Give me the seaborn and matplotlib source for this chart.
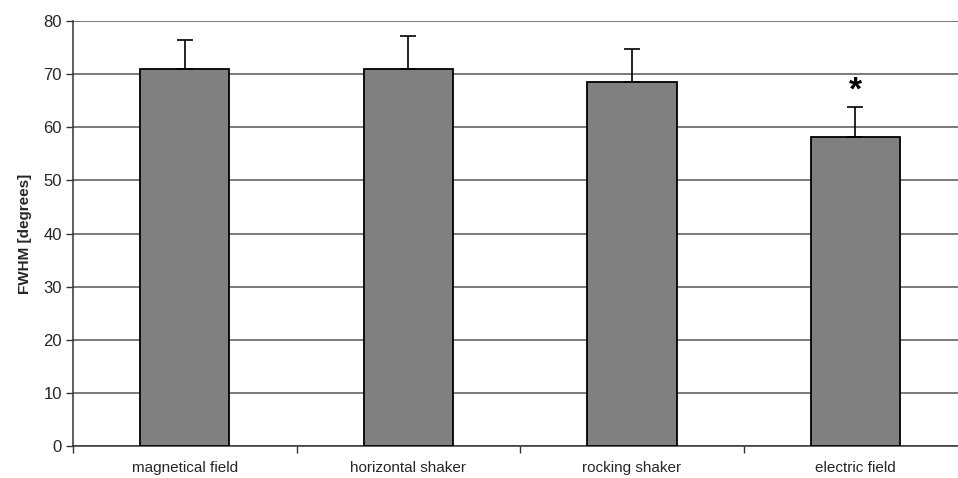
import numpy as np
import pandas as pd
import matplotlib
matplotlib.use("Agg")
import matplotlib.pyplot as plt
import seaborn as sns

# values
categories = ["magnetical field", "horizontal shaker", "rocking shaker", "electric field"]
fwhm_mean = [71.0, 71.0, 68.5, 58.2]
fwhm_err = [5.5, 6.2, 6.3, 5.7]
star_label = "*"
star_category = 3
star_y = 66.8

sns.set_style("white")
plt.rcParams['font.family'] = ['Liberation Sans', 'DejaVu Sans']

df = pd.DataFrame({"condition": categories, "fwhm": fwhm_mean})

fig = plt.figure(figsize=(9.58, 4.78), dpi=100)
ax = fig.add_axes([0.0762, 0.067, 0.924, 0.889])

sns.barplot(data=df, x="condition", y="fwhm", color="#808080", saturation=1,
            width=0.40, edgecolor="black", linewidth=1.3, ax=ax, zorder=3)

# only the upper half of the error bar
ax.errorbar(range(len(categories)), fwhm_mean, yerr=[[0] * len(categories), fwhm_err],
            fmt="none", ecolor="black", elinewidth=1.2, capsize=6, capthick=1.2, zorder=4)

ax.text(star_category, star_y, star_label, ha="center", va="center",
        fontsize=24, fontweight="bold", color="black", zorder=5)

ax.set_ylim(0, 80)
ax.set_yticks(np.arange(0, 81, 10))
ax.set_xlim(-0.5, 3.46)
ax.yaxis.grid(True, color="#555555", linewidth=1.1, zorder=0)
ax.set_axisbelow(True)

ax.set_xlabel("")
ax.set_ylabel("FWHM [degrees]", fontsize=11, fontweight="bold", labelpad=8)

for side in ["top", "right"]:
    ax.spines[side].set_visible(False)
ax.spines["left"].set_color("#333333")
ax.spines["bottom"].set_color("#333333")
ax.spines["left"].set_linewidth(1.1)
ax.spines["bottom"].set_linewidth(1.1)

ax.tick_params(axis="y", which="major", left=True, length=5, width=1, color="#333333",
               labelsize=12, pad=3)
ax.tick_params(axis="x", which="major", bottom=False, length=0, labelsize=11, pad=11)
ax.set_xticks([-0.5, 0.5, 1.5, 2.5], minor=True)
ax.tick_params(axis="x", which="minor", bottom=True, length=5, width=1, color="#333333")

plt.savefig("out.png", dpi=100)
